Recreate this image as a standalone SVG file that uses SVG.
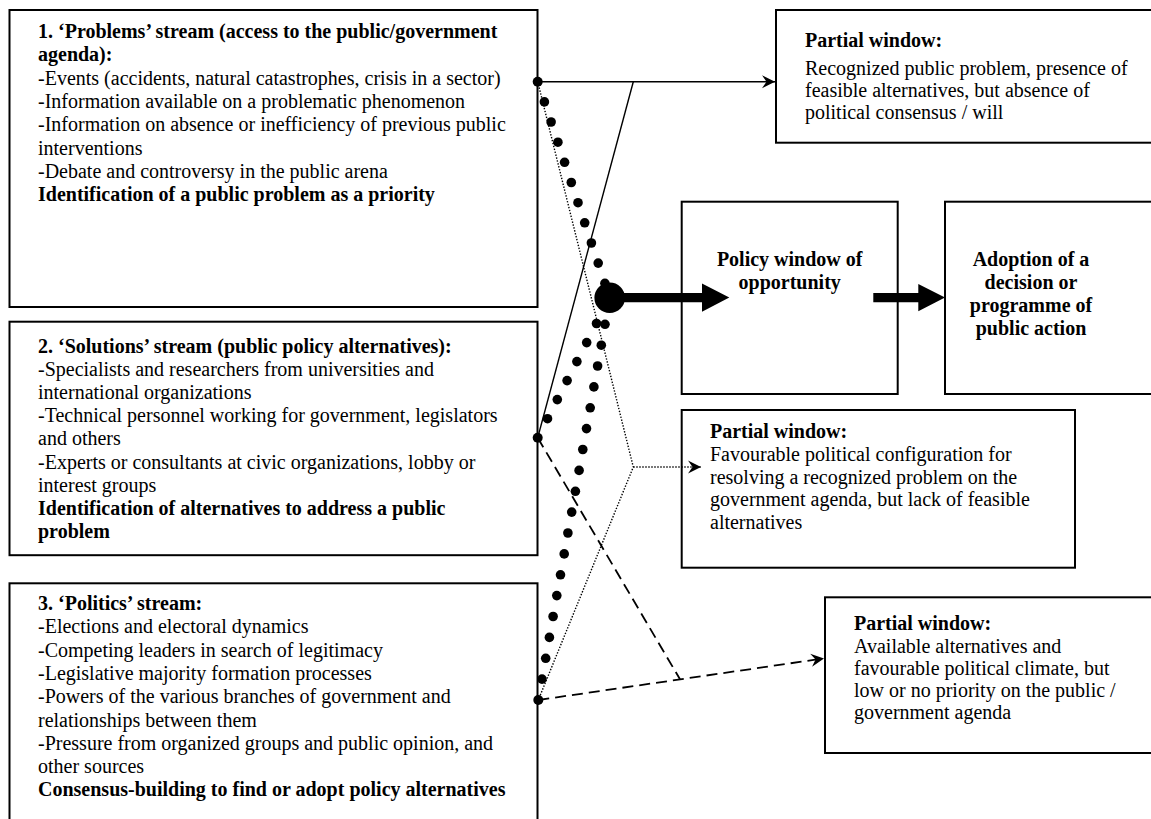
<svg xmlns="http://www.w3.org/2000/svg" width="1151" height="819" viewBox="0 0 1151 819">
<style>
.box{fill:#fff;stroke:#000;stroke-width:2}
.t{font-family:"Liberation Serif","Times New Roman",serif;font-size:20px;fill:#000}
.b{font-weight:bold}
.c{text-anchor:middle}
.ln{fill:none;stroke:#000;stroke-width:1.4}
.dot{fill:none;stroke:#000;stroke-width:1.4;stroke-dasharray:1.4 1.6}
.dash{fill:none;stroke:#000;stroke-width:1.8;stroke-dasharray:11 6}
</style>
<defs>
<marker id="ah" viewBox="-14 -7 15 14" refX="0" refY="0" markerWidth="15" markerHeight="14" markerUnits="userSpaceOnUse" orient="auto">
<path d="M0,0 L-13,-6.5 L-8.5,0 L-13,6.5 Z" fill="#000"/>
</marker>
<circle id="sd" r="4.8" fill="#000"/>
</defs>
<rect width="1151" height="819" fill="#fff"/>

<g id="problems">
<rect class="box" x="9.5" y="10" width="528" height="297"/>
<text class="t" x="38" y="38"><tspan class="b" x="38" y="38">1. ‘Problems’ stream (access to the public/government</tspan><tspan class="b" x="38" y="61.3">agenda):</tspan><tspan x="38" y="84.6">-Events (accidents, natural catastrophes, crisis in a sector)</tspan><tspan x="38" y="107.9">-Information available on a problematic phenomenon</tspan><tspan x="38" y="131.2">-Information on absence or inefficiency of previous public</tspan><tspan x="38" y="154.5">interventions</tspan><tspan x="38" y="177.8">-Debate and controversy in the public arena</tspan><tspan class="b" x="38" y="201.1">Identification of a public problem as a priority</tspan></text>
</g>

<g id="solutions">
<rect class="box" x="9.5" y="321.7" width="528" height="233.5"/>
<text class="t"><tspan class="b" x="38" y="352.5">2. ‘Solutions’ stream (public policy alternatives):</tspan><tspan x="38" y="375.7">-Specialists and researchers from universities and</tspan><tspan x="38" y="398.9">international organizations</tspan><tspan x="38" y="422.1">-Technical personnel working for government, legislators</tspan><tspan x="38" y="445.3">and others</tspan><tspan x="38" y="468.5">-Experts or consultants at civic organizations, lobby or</tspan><tspan x="38" y="491.7">interest groups</tspan><tspan class="b" x="38" y="514.9">Identification of alternatives to address a public</tspan><tspan class="b" x="38" y="538.1">problem</tspan></text>
</g>

<g id="politics">
<rect class="box" x="9.5" y="583.3" width="528" height="250"/>
<text class="t"><tspan class="b" x="38" y="610">3. ‘Politics’ stream:</tspan><tspan x="38" y="633.3">-Elections and electoral dynamics</tspan><tspan x="38" y="656.6">-Competing leaders in search of legitimacy</tspan><tspan x="38" y="679.9">-Legislative majority formation processes</tspan><tspan x="38" y="703.2">-Powers of the various branches of government and</tspan><tspan x="38" y="726.5">relationships between them</tspan><tspan x="38" y="749.8">-Pressure from organized groups and public opinion, and</tspan><tspan x="38" y="773.1">other sources</tspan><tspan class="b" x="38" y="796.4">Consensus-building to find or adopt policy alternatives</tspan></text>
</g>

<g id="partial-top">
<rect class="box" x="776" y="10" width="390" height="132.7"/>
<text class="t"><tspan class="b" x="805" y="47">Partial window:</tspan><tspan x="805" y="75">Recognized public problem, presence of</tspan><tspan x="805" y="97">feasible alternatives, but absence of</tspan><tspan x="805" y="119">political consensus / will</tspan></text>
</g>

<g id="policy-window">
<rect class="box" x="681.7" y="201.7" width="216" height="192.3"/>
<text class="t b c"><tspan x="789.7" y="266">Policy window of</tspan><tspan x="789.7" y="289">opportunity</tspan></text>
</g>

<g id="adoption">
<rect class="box" x="945" y="201.7" width="220" height="192.3"/>
<text class="t b c"><tspan x="1031" y="266">Adoption of a</tspan><tspan x="1031" y="289">decision or</tspan><tspan x="1031" y="312">programme of</tspan><tspan x="1031" y="335">public action</tspan></text>
</g>

<g id="partial-middle">
<rect class="box" x="681.7" y="410" width="393.3" height="157.7"/>
<text class="t"><tspan class="b" x="710" y="438">Partial window:</tspan><tspan x="710" y="461">Favourable political configuration for</tspan><tspan x="710" y="484">resolving a recognized problem on the</tspan><tspan x="710" y="506">government agenda, but lack of feasible</tspan><tspan x="710" y="529">alternatives</tspan></text>
</g>

<g id="partial-bottom">
<rect class="box" x="825" y="597.3" width="340" height="155.7"/>
<text class="t"><tspan class="b" x="854" y="630">Partial window:</tspan><tspan x="854" y="652.5">Available alternatives and</tspan><tspan x="854" y="674.5">favourable political climate, but</tspan><tspan x="854" y="697">low or no priority on the public /</tspan><tspan x="854" y="719">government agenda</tspan></text>
</g>

<g id="connectors">
<!-- solid: problems -> top partial window -->
<line class="ln" x1="537.7" y1="81.7" x2="775" y2="81.7" marker-end="url(#ah)"/>
<line class="ln" x1="633.3" y1="81.7" x2="537.7" y2="437.7"/>
<!-- dotted: problems + politics -> middle partial window -->
<polyline class="dot" points="537.7,81.7 633.3,467 538.3,700"/>
<line class="dot" x1="633.3" y1="467" x2="701" y2="467" marker-end="url(#ah)"/>
<!-- dashed: solutions + politics -> bottom partial window -->
<line class="dash" x1="537.7" y1="437.7" x2="680" y2="679.3"/>
<line class="dash" x1="538.3" y1="700" x2="824" y2="658.4" marker-end="url(#ah)"/>
<!-- big dotted streams into policy window -->
<g id="big-dots">
<use href="#sd" x="544.4" y="101.9"/><use href="#sd" x="551.1" y="122.0"/><use href="#sd" x="557.9" y="142.2"/><use href="#sd" x="564.6" y="162.3"/><use href="#sd" x="571.3" y="182.5"/><use href="#sd" x="578.0" y="202.7"/><use href="#sd" x="584.7" y="222.8"/><use href="#sd" x="591.4" y="243.0"/><use href="#sd" x="598.2" y="263.1"/><use href="#sd" x="604.9" y="283.3"/>
<use href="#sd" x="547.5" y="418.7"/><use href="#sd" x="557.3" y="399.6"/><use href="#sd" x="567.1" y="380.6"/><use href="#sd" x="576.9" y="361.6"/><use href="#sd" x="586.7" y="342.6"/><use href="#sd" x="596.5" y="323.5"/>
<use href="#sd" x="542.0" y="679.1"/><use href="#sd" x="545.7" y="658.3"/><use href="#sd" x="549.4" y="637.4"/><use href="#sd" x="553.1" y="616.5"/><use href="#sd" x="556.8" y="595.6"/><use href="#sd" x="560.5" y="574.8"/><use href="#sd" x="564.2" y="553.9"/><use href="#sd" x="567.9" y="533.0"/><use href="#sd" x="571.7" y="512.1"/><use href="#sd" x="575.4" y="491.3"/><use href="#sd" x="579.1" y="470.4"/><use href="#sd" x="582.8" y="449.5"/><use href="#sd" x="586.5" y="428.6"/><use href="#sd" x="590.2" y="407.8"/><use href="#sd" x="593.9" y="386.9"/><use href="#sd" x="597.6" y="366.0"/><use href="#sd" x="601.3" y="345.2"/><use href="#sd" x="605.0" y="324.3"/>
</g>
<!-- endpoint dots on stream boxes -->
<circle cx="537.7" cy="81.7" r="5" fill="#000"/>
<circle cx="537.7" cy="437.7" r="5" fill="#000"/>
<circle cx="538.3" cy="700" r="5" fill="#000"/>
<!-- thick arrows -->
<circle cx="609.7" cy="297.8" r="15.3" fill="#000"/>
<path d="M609.7,293 H702 V283.5 L729.3,297.6 L702,311.7 V302.3 H609.7 Z" fill="#000"/>
<path d="M873.3,293 H918.3 V284 L945,297.6 L918.3,311.2 V302.3 H873.3 Z" fill="#000"/>
</g>
</svg>
